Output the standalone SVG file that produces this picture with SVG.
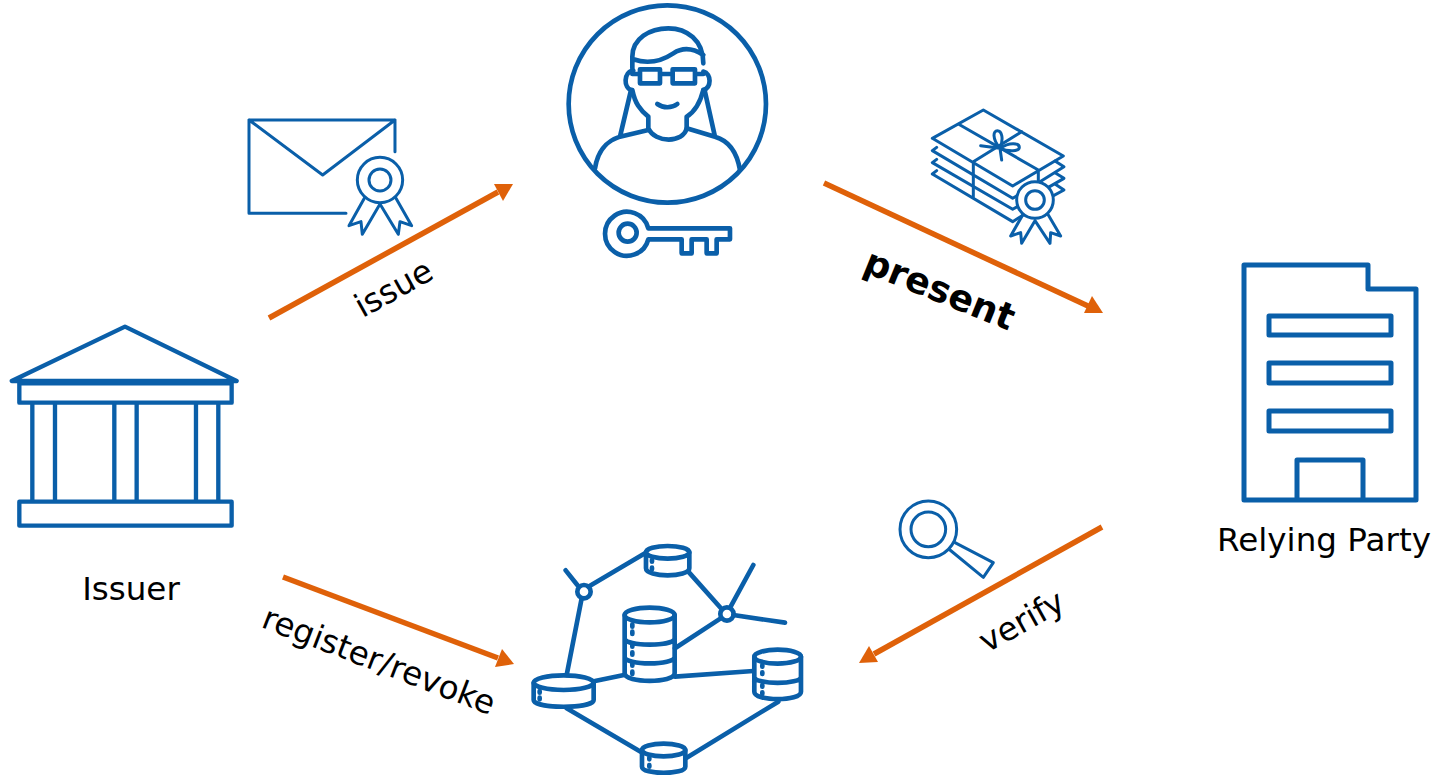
<svg xmlns="http://www.w3.org/2000/svg" width="1434" height="775" viewBox="0 0 1434 775">
<style>
.i{fill:none;stroke:#0a5fa9;stroke-linejoin:round;stroke-linecap:round}
.a{fill:none;stroke:#df6109;stroke-width:5.5}
.h{fill:#df6109}
text{font-family:"DejaVu Sans",sans-serif;font-size:32.6px;fill:#000}
</style>
<rect width="1434" height="775" fill="#fff"/>
<g id="holder" class="i" transform="translate(540 0) scale(.3333)" stroke-width="14">
<circle cx="382" cy="312" r="296"/>
<path d="M277 205V170C277 115 330 85 385 85C440 85 490 120 490 190M280 178C330 195 370 180 400 160C430 140 460 145 490 165"/>
<path d="M300 208H360V250H300ZM398 208H465V250H398ZM360 222H398M277 222H300M465 222H490"/>
<path d="M280 212C250 215 250 265 275 270M490 215C515 220 515 265 490 270"/>
<path d="M277 270C285 310 300 330 325 350V385C345 430 430 430 440 385V350C465 335 480 310 490 270"/>
<path d="M272 275L240 410M495 275L525 410M165 505C175 440 210 420 240 410L325 390M440 385L525 410C560 420 590 450 600 510M352 312C370 325 395 325 412 312"/>
<path d="M325 685H570V718H530V760H500V718H455V760H425V718H325A66 66 0 1 1 325 685Z"/>
<circle cx="263" cy="698" r="27"/>
</g>
<g id="credential" class="i" transform="translate(235 105) scale(.3333)" stroke-width="9">
<path d="M480 140V45H42V325H333M42 45L263 210L480 45"/>
<circle cx="435" cy="225" r="68"/><circle cx="435" cy="225" r="33"/>
<path d="M388 280L342 362L378 350L382 388L435 297L490 388L495 350L530 362L483 280"/>
</g>
<g id="presentation" class="i" transform="translate(920 100) scale(.3333)" stroke-width="9">
<path d="M190 30L430 168L278 258L37 115ZM115 72L355 210V250M305 95L160 185V290"/>
<path d="M50 142L37 152L278 295L355 250M50 178L37 188L278 328L300 315M50 212L37 222L278 365L310 345"/>
<path d="M405 183L432 200L360 245M405 218L432 235L385 262M405 252L432 270L395 290"/>
<path d="M240 145C215 115 220 92 232 92C245 92 252 115 240 145C270 125 298 130 298 142C298 155 265 155 240 145L245 180M240 145L182 137"/>
<circle cx="345" cy="300" r="55" fill="#fff"/><circle cx="345" cy="300" r="28"/>
<path d="M308 345L272 408L302 398L305 430L345 362L390 430L392 398L422 408L385 345"/>
</g>
<g id="ledger" class="i" transform="translate(520 535) scale(.3333)" stroke-width="14">
<path d="M205 155L375 55M505 110L605 222M640 240L795 263M632 215L700 90M172 150L137 106M185 190L140 420M465 340L602 250M225 438L312 420M465 425L700 408M140 520L362 650M775 500L500 668"/>
<circle cx="192" cy="170" r="20"/><circle cx="621" cy="237" r="20"/>
<g><ellipse cx="443" cy="52" rx="65" ry="19"/><path d="M378 52V100C378 128 508 128 508 100V52"/><path d="M396 75V80M396 98V103"/></g>
<g><ellipse cx="389" cy="240" rx="75" ry="22"/><path d="M314 240V415C314 445 464 445 464 415V240M314 310C314 335 464 335 464 310M314 365C314 392 464 392 464 365"/><path d="M337 268V275M337 290V297M337 328V335M337 352V359M337 385V392M337 410V417"/></g>
<g><ellipse cx="131" cy="443" rx="90" ry="22"/><path d="M41 443V495C41 522 221 522 221 495V443"/><path d="M59 468V473M59 488V493"/></g>
<g><ellipse cx="773" cy="365" rx="70" ry="21"/><path d="M703 365V470C703 500 843 500 843 470V365M703 425C703 450 843 450 843 425"/><path d="M727 390V395M727 412V417M727 450V455M727 472V477"/></g>
<g><ellipse cx="431" cy="645" rx="65" ry="19"/><path d="M366 645V695C366 720 496 720 496 695V645"/><path d="M388 668V673M388 690V695"/></g>
</g>
<g id="magnifier" class="i" transform="translate(885 490) scale(.3333)" stroke-width="9">
<circle cx="130" cy="118" r="85"/><circle cx="130" cy="118" r="52"/>
<path d="M210 158L325 218L295 262L195 180"/>
</g>
<g id="issuer">
<g class="i" transform="translate(0 315) scale(.3333)" stroke-width="13">
<path d="M35 198L375 35L710 198ZM58 205H695V263H58ZM97 263V560M165 263V560M343 263V560M410 263V560M588 263V560M655 263V560M58 560H695V632H58Z"/>
</g>
<text x="131" y="600" text-anchor="middle">Issuer</text>
</g>
<g id="relying-party">
<g class="i" stroke-width="5">
<path d="M1244 500V265H1368V289H1416V500ZM1269 316H1391V335H1269ZM1269 363H1391V383H1269ZM1269 411H1391V431H1269ZM1297 500V460H1363V500"/>
</g>
<text x="1324" y="551" text-anchor="middle">Relying Party</text>
</g>
<g id="connectors">
<path class="a" d="M269 318L498 192"/><path class="h" d="M513 184L503 201L494 184Z"/>
<path class="a" d="M824 183L1088 306"/><path class="h" d="M1103 313L1084 313L1092 296Z"/>
<path class="a" d="M1102 527L874 654"/><path class="h" d="M859 663L869 646L878 662Z"/>
<path class="a" d="M283 577L498 658"/><path class="h" d="M514 664L495 667L502 649Z"/>
</g>
<text transform="translate(399 298) rotate(-29)" text-anchor="middle">issue</text>
<text transform="translate(935 301) rotate(22)" text-anchor="middle" font-weight="bold" style="font-size:36.5px">present</text>
<text transform="translate(1027 631) rotate(-29)" text-anchor="middle">verify</text>
<text transform="translate(375 671) rotate(21)" text-anchor="middle">register/revoke</text>
</svg>
